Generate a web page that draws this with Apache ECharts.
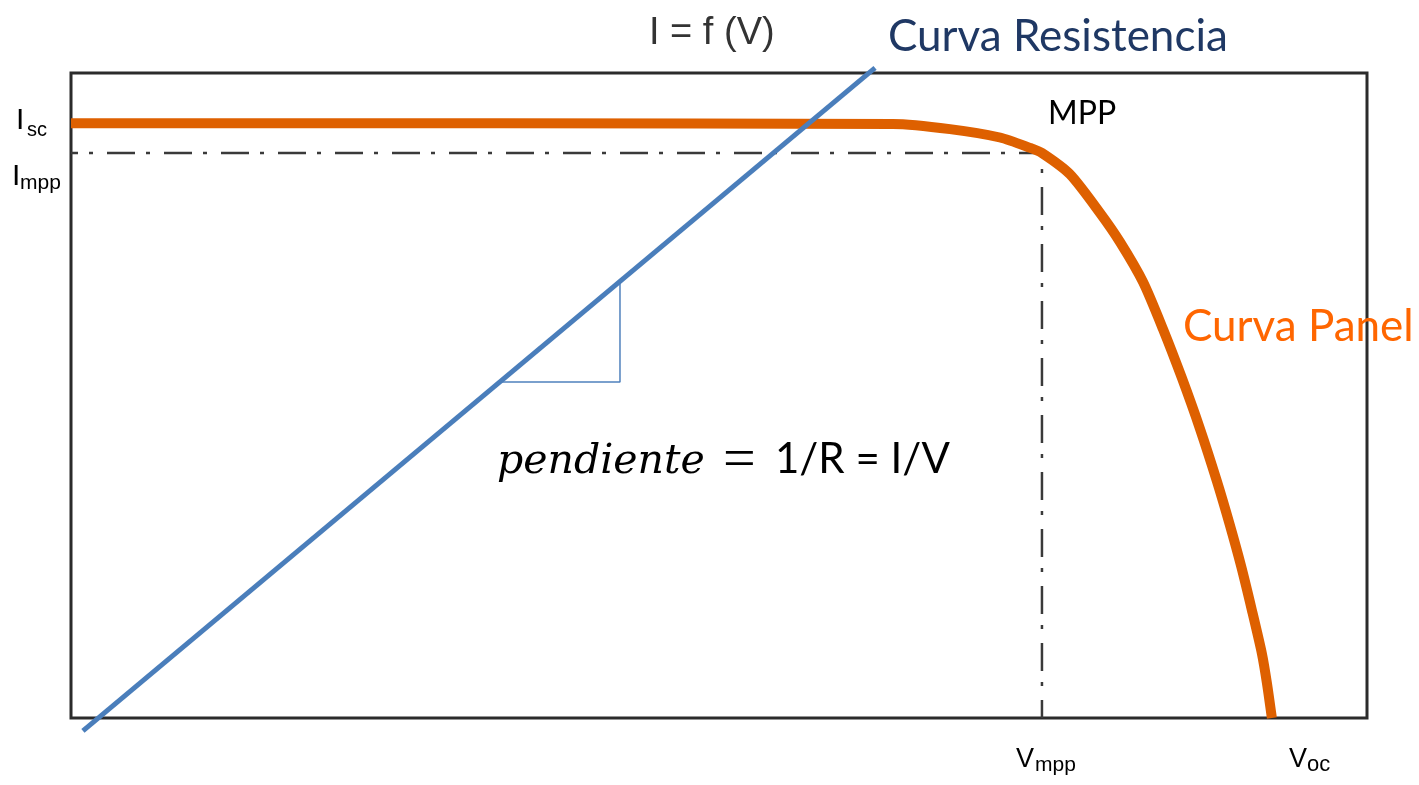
<!DOCTYPE html>
<html><head><meta charset="utf-8">
<script src="https://cdn.jsdelivr.net/npm/echarts@6/dist/echarts.min.js"></script>
<style>html,body{margin:0;padding:0;background:#fff}#c{width:1419px;height:785px}</style>
</head><body><div id="c"></div><script>
// Panel I-V curve (V, A)
const panelV = [0, 16.55, 31.71, 33.91, 35.84, 37.00, 37.46, 38.54, 39.70, 40.47, 41.36, 42.13, 42.86, 43.56, 44.21, 44.71, 45.14, 45.56, 45.95, 46.14, 46.33];
const panelI = [9.22, 9.22, 9.21, 9.13, 9.00, 8.84, 8.76, 8.43, 7.83, 7.38, 6.76, 6.03, 5.27, 4.48, 3.67, 2.99, 2.36, 1.67, 0.99, 0.54, 0];
// Resistance line
const resistV = [0.46, 31.02];
const resistI = [-0.20, 10.08];
// Slope triangle
const slopeV = [16.55, 21.18, 21.18];
const slopeI = [5.21, 5.21, 6.74];
// MPP guide lines
const guideV = [0, 37.46, 37.46];
const guideI = [8.76, 8.76, 0];
// Texts
const tickMain = ['I', 'I', 'V', 'V'];
const tickSub = ['sc', 'mpp', 'mpp', 'oc'];

const zip = (a, b) => a.map((v, i) => [v, b[i]]);

const chart = echarts.init(document.getElementById('c'), null, {renderer: 'canvas'});

function txt(x, y, text, font, fill, align) {
  return {type: 'text', x: x, y: y, silent: true, z: 100,
    style: {text: text, font: font, fill: fill, textAlign: align || 'left', textVerticalAlign: 'middle'}};
}
const SANS = '"Liberation Sans", Arial, sans-serif';
const CAL = 'Lato, "Open Sans", sans-serif';

chart.setOption({
  animation: false,
  backgroundColor: '#ffffff',
  grid: {left: 71, top: 73, width: 1296, height: 645, show: true, borderColor: '#2b2b2b', borderWidth: 3, backgroundColor: 'transparent'},
  xAxis: {type: 'value', min: 0, max: 50, axisLine: {show: false}, axisTick: {show: false}, axisLabel: {show: false}, splitLine: {show: false}},
  yAxis: {type: 'value', min: 0, max: 10, axisLine: {show: false}, axisTick: {show: false}, axisLabel: {show: false}, splitLine: {show: false}},
  series: [
    {type: 'line', name: 'guide', data: zip(guideV, guideI), symbol: 'none', z: 1,
      lineStyle: {color: '#3a3a3a', width: 2.5, type: [28, 11, 4, 14], dashOffset: 21}},
    {type: 'line', name: 'Curva Panel', data: zip(panelV, panelI), symbol: 'none', smooth: 0.25, z: 2,
      lineStyle: {color: '#DE6000', width: 10, cap: 'butt'}},
    {type: 'line', name: 'slope', data: zip(slopeV, slopeI), symbol: 'none', z: 3,
      lineStyle: {color: '#4F81BD', width: 1.5}},
    {type: 'line', name: 'Curva Resistencia', data: zip(resistV, resistI), symbol: 'none', clip: false, z: 4,
      lineStyle: {color: '#4A7EBB', width: 5, cap: 'butt'}}
  ],
  graphic: [
    txt(649, 34, 'I = f (V)', '38px ' + SANS, '#333333'),
    txt(888, 37, 'Curva Resistencia', '44px ' + CAL, '#1F3864'),
    txt(1183, 327, 'Curva Panel', '44px ' + CAL, '#FF6600'),
    txt(1048, 114, 'MPP', '32px ' + CAL, '#000000'),
    txt(497, 462, 'pendiente', 'italic 41px "DejaVu Serif", serif', '#000000'),
    txt(723, 462, '=', '58px "Liberation Serif", serif', '#000000'),
    txt(775, 459, '1/R = I/V', '42px ' + CAL, '#000000'),
    txt(16, 121, tickMain[0], '30px ' + SANS, '#000000'),
    txt(27, 130, tickSub[0], '20px ' + SANS, '#000000'),
    txt(12, 177, tickMain[1], '30px ' + SANS, '#000000'),
    txt(20, 183, tickSub[1], '21px ' + SANS, '#000000'),
    txt(1016, 760, tickMain[2], '27px ' + SANS, '#000000'),
    txt(1035, 765, tickSub[2], '21px ' + SANS, '#000000'),
    txt(1289, 760, tickMain[3], '27px ' + SANS, '#000000'),
    txt(1307, 765, tickSub[3], '22px ' + SANS, '#000000')
  ]
});
</script></body></html>
